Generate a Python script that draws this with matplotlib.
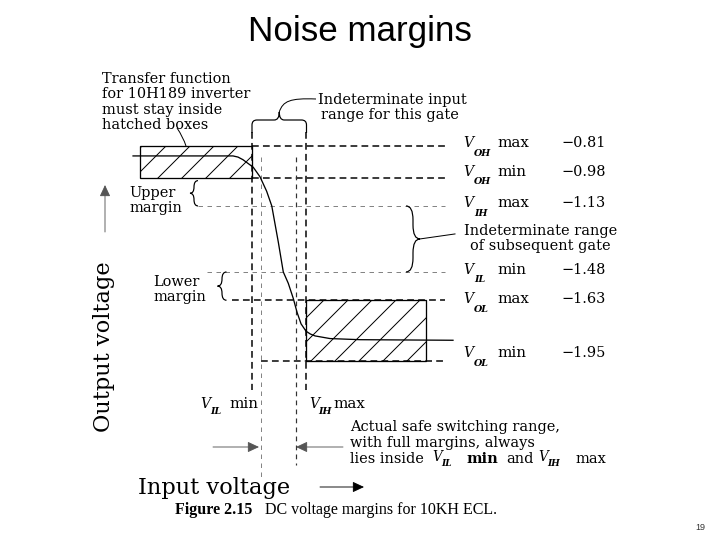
import matplotlib
matplotlib.use('Agg')
import matplotlib.pyplot as plt
from matplotlib.patches import Rectangle, PathPatch, FancyArrowPatch
from matplotlib.path import Path

# 10KH ECL levels (output voltage, V)
levels = [-0.81, -0.98, -1.13, -1.48, -1.63, -1.95]
level_sym = ['OH', 'OH', 'IH', 'IL', 'OL', 'OL']
level_kind = ['max', 'min', 'max', 'min', 'max', 'min']
level_txt = ['\u22120.81', '\u22120.98', '\u22121.13', '\u22121.48', '\u22121.63', '\u22121.95']

# input side (input voltage, V)
vil_min = -1.48
vih_max = -1.13
x_cross_hi = -1.42   # curve leaves V_OH min
x_cross_lo = -1.20   # curve reaches V_OL max
box_hi_left = -2.20  # left end of upper hatched box
box_lo_right = -0.36  # right end of lower hatched box

# transfer function of the 10H189 inverter
vin = [-2.244, -1.602, -1.57, -1.538, -1.472, -1.429, -1.386, -1.353, -1.311, -1.279,
       -1.247, -1.215, -1.191, -1.165, -1.133, -1.105, -1.075, -0.979, -0.786, -0.189]
vout = [-0.865, -0.865, -0.871, -0.885, -0.925, -0.975, -1.052, -1.13, -1.322, -1.48,
        -1.54, -1.62, -1.693, -1.755, -1.794, -1.809, -1.819, -1.833, -1.839, -1.842]

plt.rcParams['hatch.linewidth'] = 1.0
serif = 'DejaVu Serif'

fig = plt.figure(figsize=(10, 7.5), dpi=72)
ax = fig.add_axes([0, 0, 1, 1])
ax.set_xlim(-3.0985, 1.5258)
ax.set_ylim(-2.9007, -0.0385)
ax.axis('off')
ov = fig.add_axes([0, 0, 1, 1])   # pixel overlay for notes
ov.set_xlim(0, 720)
ov.set_ylim(540, 0)
ov.axis('off')


def to_px(x, y):
    X, Y = ax.transData.transform((x, y))
    return X, 540 - Y


def to_v(px, py):
    return ax.transData.inverted().transform((px, 540 - py))


heavy = dict(color='black', lw=1.5, dashes=(4.5, 2.8))
light = dict(color='#777777', lw=0.9, dashes=(5, 5))
mid = dict(color='#333333', lw=1.2, dashes=(4, 3.5))

# horizontal level lines
starts = [252, 252, 198, 207, 232, 261]
styles = [heavy, heavy, light, light, heavy, heavy]
x_end = to_v(445, 0)[0]
for lv, s, st in zip(levels, starts, styles):
    ax.plot([to_v(s, 0)[0], x_end], [lv, lv], **st)

# vertical input lines
for xv, top, bot, st in [(vil_min, 132, 390, heavy), (x_cross_hi, 157, 480, light),
                         (x_cross_lo, 157, 465, mid), (vih_max, 132, 390, heavy)]:
    ax.plot([xv, xv], [to_v(0, top)[1], to_v(0, bot)[1]], **st)

# hatched boxes
ax.add_patch(Rectangle((box_hi_left, levels[1]), vil_min - box_hi_left, levels[0] - levels[1],
                       facecolor='white', edgecolor='black', hatch='/', lw=1.3))
ax.add_patch(Rectangle((vih_max, levels[5]), box_lo_right - vih_max, levels[4] - levels[5],
                       facecolor='white', edgecolor='black', hatch='/', lw=1.3))

# transfer curve
ax.plot(vin, vout, color='black', lw=1.3)


def brace_v(x, y0, y1, w, tip=-1):
    # vertical curly brace, tip=-1 points left ("{"), +1 right ("}")
    q = min(abs(w), abs(y1 - y0) / 4)
    ym = (y0 + y1) / 2
    e = x - tip * w / 2
    t = x + tip * w / 2
    verts = [(e, y0), (x, y0), (x, y0 + q), (x, ym - q), (x, ym), (t, ym),
             (x, ym), (x, ym + q), (x, y1 - q), (x, y1), (e, y1)]
    codes = [Path.MOVETO, Path.CURVE3, Path.CURVE3, Path.LINETO, Path.CURVE3, Path.CURVE3,
             Path.CURVE3, Path.CURVE3, Path.LINETO, Path.CURVE3, Path.CURVE3]
    ov.add_patch(PathPatch(Path(verts, codes), fill=False, lw=1.2, color='black'))


def curve(pts, lw=1.0):
    codes = [Path.MOVETO] + [Path.CURVE4] * (len(pts) - 1)
    ov.add_patch(PathPatch(Path(pts, codes), fill=False, lw=lw, color='black'))


# margin braces
brace_v(194, to_px(0, levels[1])[1] + 3, to_px(0, levels[2])[1], 8, -1)
brace_v(222, to_px(0, levels[3])[1], to_px(0, levels[4])[1], 9, -1)
brace_v(413, to_px(0, levels[2])[1], to_px(0, levels[3])[1], 14, 1)
ov.plot([420, 455], [to_px(0, -1.305)[1], to_px(0, -1.305)[1] - 5], color='black', lw=1)

# top brace over the indeterminate input range
x0 = to_px(vil_min, 0)[0]
x1 = to_px(vih_max, 0)[0]
xm = (x0 + x1) / 2
ys, yb, yt, q = 120, 133, 112, 5
verts = [(x0, yb), (x0, ys + q), (x0, ys), (x0 + q, ys), (xm - q, ys), (xm, ys), (xm, yt),
         (xm, ys), (xm + q, ys), (x1 - q, ys), (x1, ys), (x1, ys + q), (x1, yb)]
codes = [Path.MOVETO, Path.LINETO, Path.CURVE3, Path.CURVE3, Path.LINETO, Path.CURVE3, Path.CURVE3,
         Path.CURVE3, Path.CURVE3, Path.LINETO, Path.CURVE3, Path.CURVE3, Path.LINETO]
ov.add_patch(PathPatch(Path(verts, codes), fill=False, lw=1.2, color='black'))
curve([(xm, yt), (283, 101), (290, 98), (316, 99)])
curve([(177, 128), (181, 134), (184, 140), (186, 146)])

# arrows
for tail, head, c in [((213, 447), (259, 447), '#555555'), ((343, 447), (296, 447), '#555555'),
                      ((320, 487), (364, 487), 'black'), ((105, 232), (105, 185), '#555555')]:
    ov.add_patch(FancyArrowPatch(tail, head, arrowstyle='-|>,head_length=0.6,head_width=0.28',
                                 mutation_scale=16, color=c, lw=0.9, shrinkA=0, shrinkB=0))

# text
fs = 14.5
note = dict(family=serif, fontsize=fs, va='center')
for i, s in enumerate(['Transfer function', 'for 10H189 inverter', 'must stay inside', 'hatched boxes']):
    ov.text(102, 79 + 15.3 * i, s, **note)
ov.text(318, 100, 'Indeterminate input', **note)
ov.text(321, 115, 'range for this gate', **note)
ov.text(129, 193, 'Upper', **note)
ov.text(129, 208, 'margin', **note)
ov.text(153, 282, 'Lower', **note)
ov.text(153, 297, 'margin', **note)
ov.text(464, 231, 'Indeterminate range', **note)
ov.text(470, 246, 'of subsequent gate', **note)

row_y = [143, 172, 203, 270, 299, 353]
for y, sym, kind, txt in zip(row_y, level_sym, level_kind, level_txt):
    ov.text(463, y, 'V', family=serif, style='italic', fontsize=14, va='center')
    ov.text(474, y + 10, sym, family=serif, style='italic', weight='bold', fontsize=9.5, va='center')
    ov.text(497, y, kind, family=serif, fontsize=15, va='center')
    ov.text(606, y, txt, family=serif, fontsize=14.5, va='center', ha='right')

ov.text(200, 404, 'V', family=serif, style='italic', fontsize=14, va='center')
ov.text(210, 411, 'IL', family=serif, style='italic', weight='bold', fontsize=9.5, va='center')
ov.text(229, 404, 'min', family=serif, fontsize=15, va='center')
ov.text(309, 404, 'V', family=serif, style='italic', fontsize=14, va='center')
ov.text(318, 411, 'IH', family=serif, style='italic', weight='bold', fontsize=9.5, va='center')
ov.text(333, 404, 'max', family=serif, fontsize=15, va='center')

ov.text(350, 427, 'Actual safe switching range,', **note)
ov.text(350, 443, 'with full margins, always', **note)
ov.text(350, 459, 'lies inside', **note)
ov.text(432, 457, 'V', family=serif, style='italic', fontsize=13.5, va='center')
ov.text(441, 464, 'IL', family=serif, style='italic', weight='bold', fontsize=9, va='center')
ov.text(466, 459, 'min', family=serif, weight='bold', fontsize=14.5, va='center')
ov.text(506, 459, 'and', family=serif, fontsize=14.5, va='center')
ov.text(538, 457, 'V', family=serif, style='italic', fontsize=13.5, va='center')
ov.text(547, 464, 'IH', family=serif, style='italic', weight='bold', fontsize=9, va='center')
ov.text(575, 459, 'max', family=serif, fontsize=14.5, va='center')

ov.text(138, 488, 'Input voltage', family=serif, fontsize=22.5, va='center')
ov.text(104, 347, 'Output voltage', family=serif, fontsize=22.5, va='center', ha='center', rotation=90)
ov.text(175, 510, 'Figure 2.15', family='Liberation Serif', weight='bold', fontsize=16, va='center')
ov.text(265, 510, 'DC voltage margins for 10KH ECL.', family='Liberation Serif', fontsize=16, va='center')

ov.text(360, 31, 'Noise margins', family='Liberation Sans', fontsize=35, ha='center', va='center')
ov.text(700, 527, '19', family='Liberation Sans', fontsize=9, ha='center', va='center', color='#333333')

fig.savefig('out.png', dpi=72, facecolor='white')
